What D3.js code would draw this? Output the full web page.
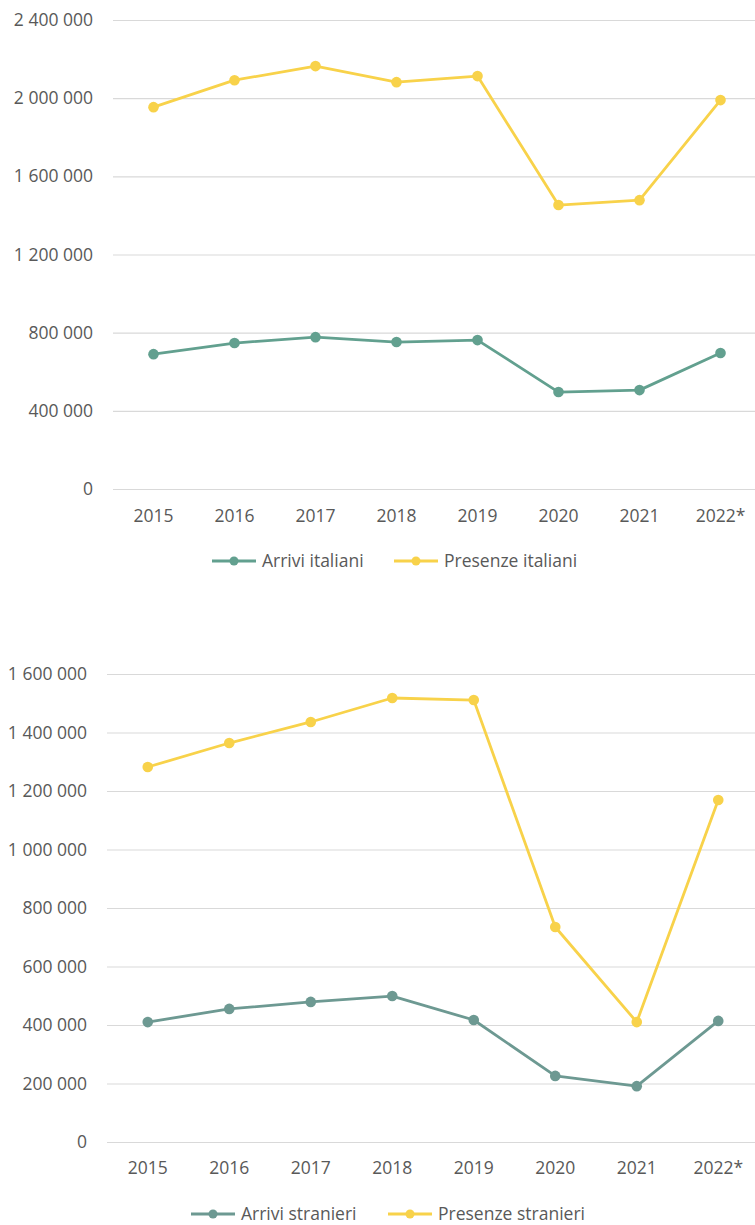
<!DOCTYPE html>
<html><head><meta charset="utf-8">
<script src="https://cdn.jsdelivr.net/npm/d3@7"></script>
<style>
body{margin:0;background:#fff;}
svg text{font-family:"Open Sans",sans-serif;fill:#595959;}
</style></head>
<body><svg id="c" width="755" height="1225"></svg>
<script>
const years = ["2015","2016","2017","2018","2019","2020","2021","2022*"];
const arriviItaliani = [690000,747000,777000,752000,762000,496000,506000,696000];
const presenzeItaliani = [1954000,2092000,2164000,2082000,2113000,1453000,1478000,1990000];
const arriviStranieri = [410000,455000,479000,499000,417000,226000,191000,414000];
const presenzeStranieri = [1282000,1364000,1436000,1518000,1511000,735000,410000,1169000];
const ticksTop = [0,400000,800000,1200000,1600000,2000000,2400000];
const ticksBottom = [0,200000,400000,600000,800000,1000000,1200000,1400000,1600000];

const svg = d3.select("#c");
const fmt = v => d3.format(",")(v).replace(/,/g," ");
const FS = 17.5;

function chart(cfg){
  const g = svg.append("g");
  const x = d3.scaleBand().domain(years).range([cfg.x0,cfg.x1]);
  const y = d3.scaleLinear().domain([0,cfg.max]).range([cfg.yb,cfg.yt]);
  const ya = g.append("g").attr("transform",`translate(${cfg.x0},0)`)
    .call(d3.axisLeft(y).tickValues(cfg.ticks).tickFormat(fmt).tickSize(-(cfg.x1-cfg.x0)).tickPadding(cfg.pad));
  ya.select(".domain").remove();
  ya.selectAll("line").attr("stroke","#d9d9d9").attr("stroke-width",1.2);
  ya.selectAll("text").attr("font-size",FS).style("fill","#595959");
  const xa = g.append("g").attr("transform",`translate(0,${cfg.yb})`)
    .call(d3.axisBottom(x).tickSize(0).tickPadding(cfg.xpad));
  xa.select(".domain").remove();
  xa.selectAll("text").attr("font-size",FS).style("fill","#595959");
  cfg.series.forEach(s=>{
    const line = d3.line().x((d,i)=>x(years[i])+x.bandwidth()/2).y(d=>y(d));
    g.append("path").datum(s.values).attr("d",line).attr("fill","none")
      .attr("stroke",s.color).attr("stroke-width",2.8).attr("stroke-linejoin","round");
    g.selectAll(null).data(s.values).enter().append("circle")
      .attr("cx",(d,i)=>x(years[i])+x.bandwidth()/2).attr("cy",d=>y(d)).attr("r",5.3)
      .attr("fill",s.color);
  });
  cfg.legend.forEach(l=>{
    const lg = g.append("g");
    lg.append("line").attr("x1",l.x).attr("x2",l.x+44).attr("y1",cfg.ly).attr("y2",cfg.ly)
      .attr("stroke",l.color).attr("stroke-width",2.8);
    lg.append("circle").attr("cx",l.x+22).attr("cy",cfg.ly).attr("r",4.5).attr("fill",l.color);
    lg.append("text").attr("x",l.x+50).attr("y",cfg.ly).attr("dy","0.35em").attr("font-size",FS).text(l.label);
  });
}

const teal1="#62a08f", teal2="#6d9992", yellow="#f8d24a";
chart({x0:113,x1:761,yt:20,yb:489,max:2400000,ticks:ticksTop,pad:20,xpad:21,ly:561,
  series:[{values:arriviItaliani,color:teal1},{values:presenzeItaliani,color:yellow}],
  legend:[{x:212,color:teal1,label:"Arrivi italiani"},{x:394,color:yellow,label:"Presenze italiani"}]});
chart({x0:107,x1:759,yt:674,yb:1142,max:1600000,ticks:ticksBottom,pad:20,xpad:20,ly:1214,
  series:[{values:arriviStranieri,color:teal2},{values:presenzeStranieri,color:yellow}],
  legend:[{x:191,color:teal2,label:"Arrivi stranieri"},{x:388,color:yellow,label:"Presenze stranieri"}]});
</script></body></html>
